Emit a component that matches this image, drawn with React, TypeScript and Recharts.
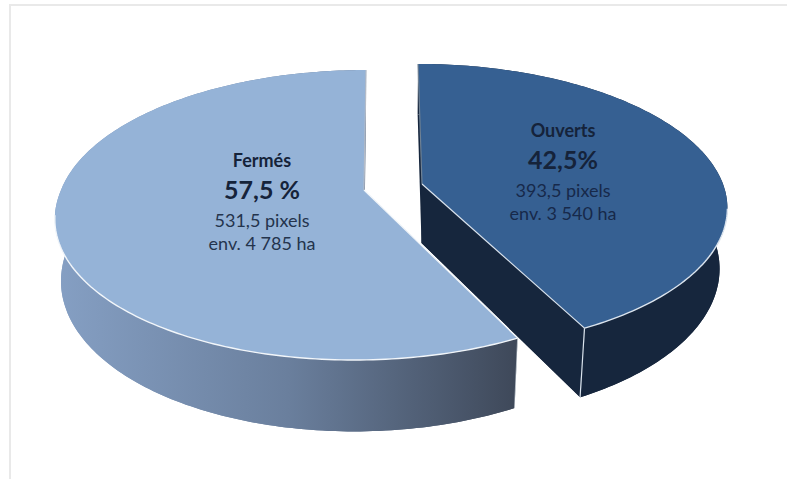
import React from "react";
import { PieChart, Pie } from "recharts";

const categories = ["Ouverts", "Fermés"];
const shares = [42.5, 57.5];
const shareLabels = ["42,5%", "57,5 %"];
const pixelLabels = ["393,5 pixels", "531,5 pixels"];
const areaLabels = ["env. 3 540 ha", "env. 4 785 ha"];

const rows = categories.map((name, i) => ({
  name,
  value: shares[i],
  shareLabel: shareLabels[i],
  pixelLabel: pixelLabels[i],
  areaLabel: areaLabels[i],
}));

// Oblique view of each exploded wedge: aspect, foreshortening and wall depth.
const VIEW: Record<string, any> = {
  Ouverts: {
    dx: 29, dy: -3, ax: 2.15, by: 0.993, t: 0.158, leanBack: -0.033, leanFront: -0.024,
    drop: 59, shiftLow: -0.5, sx: 0.976, sy: 1.07,
    top: "#366092", edge: "#6f8194", rim: "#dbe4ee", wall: "#16263d",
    textX: 141, textY: -47, soft: "#17294a",
  },
  Fermés: {
    dx: -29, dy: 3, ax: 2.164, by: 1.005, t: 0.1725, leanBack: 0.017, leanFront: 0.06,
    drop: 60, shiftLow: 0, sx: 0.98, sy: 1.067,
    top: "#95b3d7", edge: "#b4bcc8", rim: "#f2f6fa", wall: "url(#closedWall)",
    textX: -102, textY: -23, soft: "#24344d",
  },
};

type Pt = [number, number];

function project(v: any, cx: number, cy: number, r: number, clockDeg: number, lower: boolean): Pt {
  const rad = (clockDeg * Math.PI) / 180;
  const s = Math.sin(rad);
  const c = Math.cos(rad);
  const w = 1 + v.t * c;
  const up = (r * v.by * c) / w;
  const x = (r * v.ax * s) / w + (up > 0 ? v.leanBack : v.leanFront) * up;
  const tipX = cx + v.dx;
  const tipY = cy + v.dy;
  return lower
    ? [tipX + v.shiftLow + x * v.sx, tipY + v.drop - up * v.sy]
    : [tipX + x, tipY - up];
}

const toPath = (pts: Pt[], close = true) =>
  pts.map((p, i) => `${i ? "L" : "M"}${p[0].toFixed(2)} ${p[1].toFixed(2)}`).join(" ") + (close ? " Z" : "");

function Wedge3D(props: any) {
  const { cx, cy, outerRadius, startAngle, endAngle, payload } = props;
  const v = VIEW[payload.name];
  const from = 90 - startAngle;
  const to = 90 - endAngle;
  const angles: number[] = [];
  for (let a = from; a < to; a += 1) angles.push(a);
  angles.push(to);

  const topArc = angles.map((a) => project(v, cx, cy, outerRadius, a, false));
  const lowArc = angles.map((a) => project(v, cx, cy, outerRadius, a, true));
  const tipTop: Pt = [cx + v.dx, cy + v.dy];
  const tipLow: Pt = [tipTop[0] + v.shiftLow, tipTop[1] + v.drop];

  const frontArc = angles
    .filter((a) => Math.cos((a * Math.PI) / 180) < -v.t)
    .map((a) => project(v, cx, cy, outerRadius, a, false));

  // The near cut of the open wedge is its last edge; the closed wedge's is its first.
  const isOpen = payload.name === "Ouverts";
  const nearTop = isOpen ? topArc[topArc.length - 1] : topArc[0];
  const nearLow = isOpen ? lowArc[lowArc.length - 1] : lowArc[0];
  const backTop = isOpen ? topArc[0] : topArc[topArc.length - 1];

  return (
    <g>
      <defs>
        <linearGradient id="closedWall" gradientUnits="userSpaceOnUse" x1="58" y1="0" x2="518" y2="0">
          <stop offset="0" stopColor="#859fc3" />
          <stop offset="0.5" stopColor="#6a7f9d" />
          <stop offset="1" stopColor="#3e4859" />
        </linearGradient>
      </defs>
      <path d={toPath([tipLow, ...lowArc])} fill={v.wall} />
      <path d={toPath([...topArc, ...[...lowArc].reverse()])} fill={v.wall} />
      <path d={toPath([tipTop, nearTop, nearLow, tipLow])} fill={v.wall} />
      <path d={toPath([tipTop, ...topArc])} fill={v.top} />
      <path d={toPath([tipTop, backTop], false)} stroke={v.edge} strokeWidth={1.2} fill="none" />
      <path d={toPath(frontArc, false)} stroke={v.rim} strokeWidth={1.4} fill="none" />
      <path d={toPath([tipTop, nearTop], false)} stroke={v.rim} strokeWidth={1.2} fill="none" />
      <path d={toPath([nearTop, nearLow], false)} stroke={v.rim} strokeWidth={isOpen ? 1.2 : 0.6} fill="none" />
    </g>
  );
}

function WedgeLabel(props: any) {
  const { cx, cy, payload } = props;
  const row = payload?.payload ?? payload;
  const v = VIEW[row.name];
  const x = cx + v.dx + v.textX;
  const base = cy + v.dy + v.textY;
  const ink = "#15233a";
  return (
    <g fontFamily="Lato, sans-serif" textAnchor="middle">
      <text x={x} y={base} fontSize={18} fontWeight={700} fill={ink}>{row.name}</text>
      <text x={x} y={base + 32} fontSize={25} fontWeight={700} fill={ink}>{row.shareLabel}</text>
      <text x={x} y={base + 60} fontSize={18} fill={v.soft}>{row.pixelLabel}</text>
      <text x={x} y={base + 83} fontSize={18} fill={v.soft}>{row.areaLabel}</text>
    </g>
  );
}

export default function App() {
  return (
    <div style={{ position: "absolute", left: 0, top: 0, width: 787, height: 479, overflow: "hidden", background: "#fff" }}>
      <div
        style={{
          position: "absolute",
          left: 9,
          top: 4,
          width: 790,
          height: 490,
          borderLeft: "2px solid #e9e9e9",
          borderTop: "2px solid #e9e9e9",
        }}
      />
      <div style={{ position: "absolute", left: 0, top: 0 }}>
        <PieChart width={787} height={479} margin={{ top: 0, right: 0, bottom: 0, left: 0 }}>
          <Pie
            data={rows}
            dataKey="value"
            nameKey="name"
            cx={393}
            cy={187}
            outerRadius={140}
            startAngle={90}
            endAngle={-270}
            stroke="none"
            isAnimationActive={false}
            shape={Wedge3D}
            label={WedgeLabel}
            labelLine={false}
          />
        </PieChart>
      </div>
    </div>
  );
}
